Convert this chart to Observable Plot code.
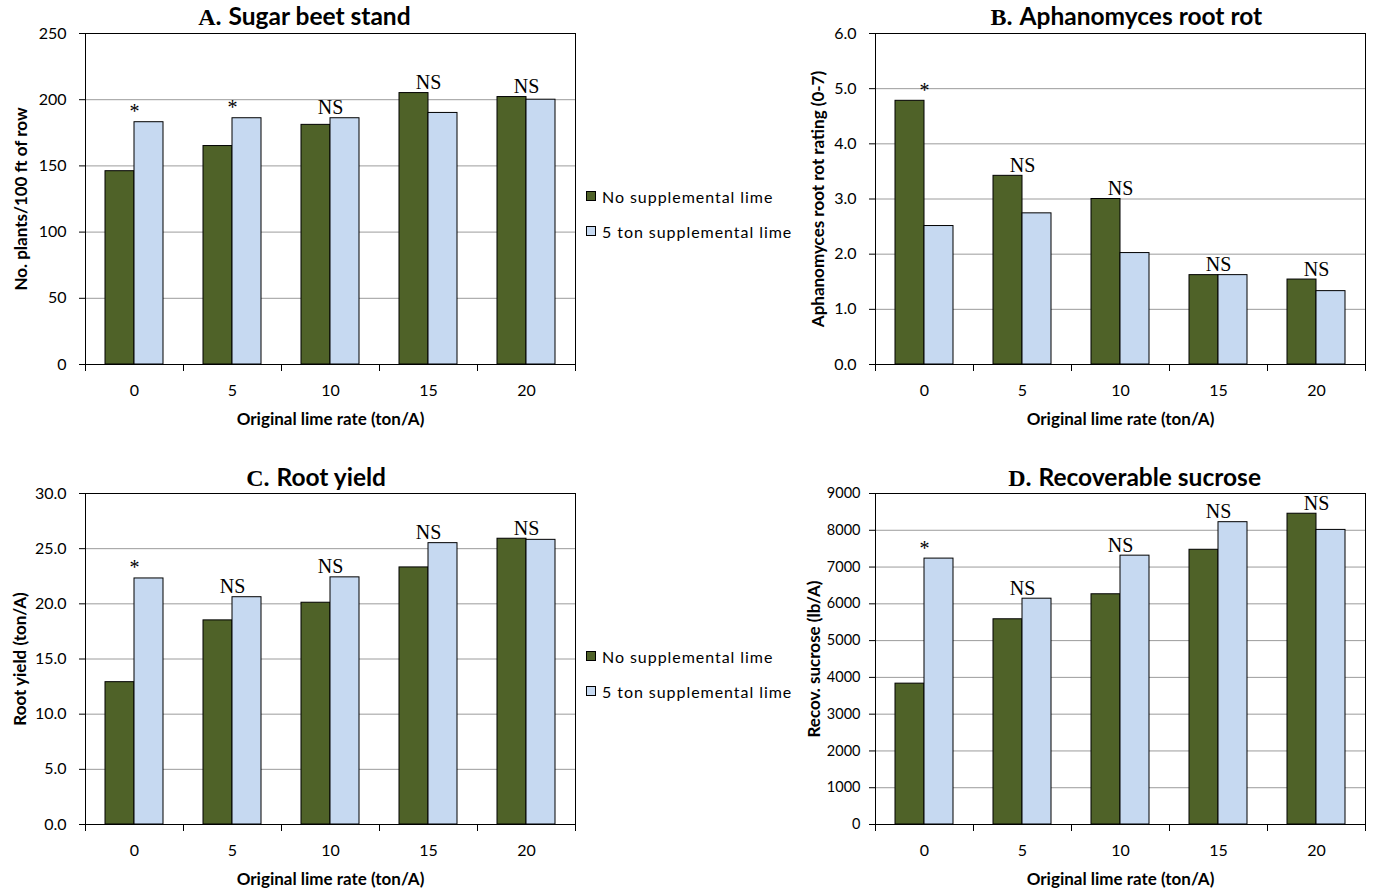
<!DOCTYPE html>
<html>
<head>
<meta charset="utf-8">
<script src="https://cdn.jsdelivr.net/npm/d3@7"></script>
<script src="https://cdn.jsdelivr.net/npm/@observablehq/plot@0.6"></script>
<style>
  body { margin: 0; background: #fff; }
  #root { position: relative; width: 1373px; height: 890px; overflow: hidden; background: #fff; }
  .panel { position: absolute; }
  .legend { position: absolute; font-family: Lato, sans-serif; font-size: 16px; letter-spacing: 0.95px; color: #000; }
  .legend .row { display: flex; align-items: center; height: 20px; margin-bottom: 15px; white-space: nowrap; }
  .legend .sw { width: 8px; height: 8px; border: 1px solid #000; margin-right: 6px; }
</style>
</head>
<body>
<div id="root"></div>
<script>
// ---- data ----
const rates = ["0", "5", "10", "15", "20"];
const series = ["No supplemental lime", "5 ton supplemental lime"];
const colors = ["#4F6228", "#C6D9F1"];
const xLabel = "Original lime rate (ton/A)";

const letters = ["A.", "B.", "C.", "D."];
const titles = ["Sugar beet stand", "Aphanomyces root rot", "Root yield", "Recoverable sucrose"];
const yLabels = ["No. plants/100 ft of row", "Aphanomyces root rot rating (0-7)", "Root yield (ton/A)", "Recov. sucrose (lb/A)"];

const standNo   = [146, 165, 181, 205, 202];
const standLime = [183, 186, 186, 190, 200];
const standSig  = ["*", "*", "NS", "NS", "NS"];
const standTicks = [0, 50, 100, 150, 200, 250];

const rotNo   = [4.78, 3.42, 3.00, 1.62, 1.54];
const rotLime = [2.51, 2.74, 2.02, 1.62, 1.33];
const rotSig  = ["*", "NS", "NS", "NS", "NS"];
const rotTicks = [0, 1, 2, 3, 4, 5, 6];

const yieldNo   = [12.9, 18.5, 20.1, 23.3, 25.9];
const yieldLime = [22.3, 20.6, 22.4, 25.5, 25.8];
const yieldSig  = ["*", "NS", "NS", "NS", "NS"];
const yieldTicks = [0, 5, 10, 15, 20, 25, 30];

const sucNo   = [3830, 5580, 6260, 7470, 8450];
const sucLime = [7230, 6140, 7310, 8220, 8010];
const sucSig  = ["*", "NS", "NS", "NS", "NS"];
const sucTicks = [0, 1000, 2000, 3000, 4000, 5000, 6000, 7000, 8000, 9000];

// ---- layout ----
const root = document.getElementById("root");
const PLOT_H = 331;

function panel(cfg) {
  const rows = [];
  rates.forEach((r, i) => {
    rows.push({rate: r, series: series[0], value: cfg.no[i]});
    rows.push({rate: r, series: series[1], value: cfg.lime[i]});
  });
  const sig = rates.map((r, i) => ({rate: r, top: Math.max(cfg.no[i], cfg.lime[i]), label: cfg.sig[i]}));
  const height = cfg.marginTop + PLOT_H + cfg.marginBottom;
  const chart = Plot.plot({
    width: cfg.width,
    height,
    marginTop: cfg.marginTop,
    marginLeft: 84,
    marginRight: cfg.width - 84 - 491,
    marginBottom: cfg.marginBottom,
    style: {fontFamily: "Lato, sans-serif", fontSize: "16px", color: "#000", background: "transparent", overflow: "visible"},
    fx: {domain: rates, padding: 0, label: null, tickSize: 0, tickPadding: 20},
    x: {domain: series, paddingInner: 0, paddingOuter: 0.667, axis: null},
    y: {domain: [cfg.ticks[0], cfg.ticks[cfg.ticks.length - 1]], label: null},
    color: {domain: series, range: colors},
    marks: [
      Plot.gridY(cfg.ticks, {stroke: "#9c9c9c", strokeOpacity: 1, strokeWidth: 1}),
      Plot.axisY(cfg.ticks, {tickFormat: cfg.format, tickSize: 6, tickPadding: cfg.tickPad, fontSize: cfg.tickFont, label: null}),
      Plot.barY(rows, {fx: "rate", x: "series", y: "value", fill: "series", stroke: "#000", strokeWidth: 1}),
      Plot.text(sig, {fx: "rate", y: "top", text: "label", lineAnchor: "bottom", dy: -4, fontFamily: "Liberation Serif, serif", fontSize: 20}),
      Plot.frame({facet: "super", stroke: "#000", strokeWidth: 1}),
      Plot.frame({anchor: "left", insetTop: PLOT_H, insetBottom: -6, stroke: "#000"}),
      Plot.frame({anchor: "right", facet: "super", insetTop: PLOT_H, insetBottom: -6, stroke: "#000"}),
      Plot.text([cfg.letter], {text: d => d, facet: "super", frameAnchor: "top-left", dx: cfg.tdx, dy: cfg.tdy, textAnchor: "end", lineAnchor: "bottom", fontFamily: "Liberation Serif, serif", fontWeight: "bold", fontSize: 24}),
      Plot.text([cfg.title], {text: d => d, facet: "super", frameAnchor: "top-left", dx: cfg.tdx + 7, dy: cfg.tdy, textAnchor: "start", lineAnchor: "bottom", fontFamily: "Lato, sans-serif", fontWeight: "bold", fontSize: 24.5}),
      Plot.text([cfg.ylabel], {text: d => d, facet: "super", frameAnchor: "left", rotate: -90, dx: cfg.ydx, textAnchor: "middle", lineAnchor: "middle", fontWeight: "bold", fontSize: 17}),
      Plot.text([xLabel], {text: d => d, facet: "super", frameAnchor: "bottom", dy: 60, textAnchor: "middle", lineAnchor: "bottom", fontWeight: "bold", fontSize: 17})
    ]
  });
  chart.classList.add("panel");
  chart.style.left = cfg.left + "px";
  chart.style.top = cfg.top + "px";
  root.appendChild(chart);
}

const f0 = d3.format("d");
const f1 = d3.format(".1f");

panel({left: 0, top: 0, width: 590, marginTop: 33, marginBottom: 80, letter: letters[0], title: titles[0], tdx: 136, tdy: -9, ylabel: yLabels[0], ydx: -64, ticks: standTicks, format: f0, tickFont: 16, tickPad: 13, no: standNo, lime: standLime, sig: standSig});
panel({left: 790, top: 0, width: 583, marginTop: 33, marginBottom: 80, letter: letters[1], title: titles[1], tdx: 137, tdy: -9, ylabel: yLabels[1], ydx: -57, ticks: rotTicks, format: f1, tickFont: 16, tickPad: 13, no: rotNo, lime: rotLime, sig: rotSig});
panel({left: 0, top: 460, width: 590, marginTop: 33, marginBottom: 66, letter: letters[2], title: titles[2], tdx: 184, tdy: -8, ylabel: yLabels[2], ydx: -65, ticks: yieldTicks, format: f1, tickFont: 16, tickPad: 13, no: yieldNo, lime: yieldLime, sig: yieldSig});
panel({left: 790, top: 460, width: 583, marginTop: 33, marginBottom: 66, letter: letters[3], title: titles[3], tdx: 156, tdy: -8, ylabel: yLabels[3], ydx: -61, ticks: sucTicks, format: f0, tickFont: 14.5, tickPad: 9, no: sucNo, lime: sucLime, sig: sucSig});

// legends
function legend(left, top) {
  const div = document.createElement("div");
  div.className = "legend";
  div.style.left = left + "px";
  div.style.top = top + "px";
  series.forEach((s, i) => {
    const row = document.createElement("div");
    row.className = "row";
    const sw = document.createElement("div");
    sw.className = "sw";
    sw.style.background = colors[i];
    const t = document.createElement("span");
    t.textContent = s;
    row.appendChild(sw);
    row.appendChild(t);
    div.appendChild(row);
  });
  root.appendChild(div);
}
legend(586, 186);
legend(586, 646);
</script>
</body>
</html>
